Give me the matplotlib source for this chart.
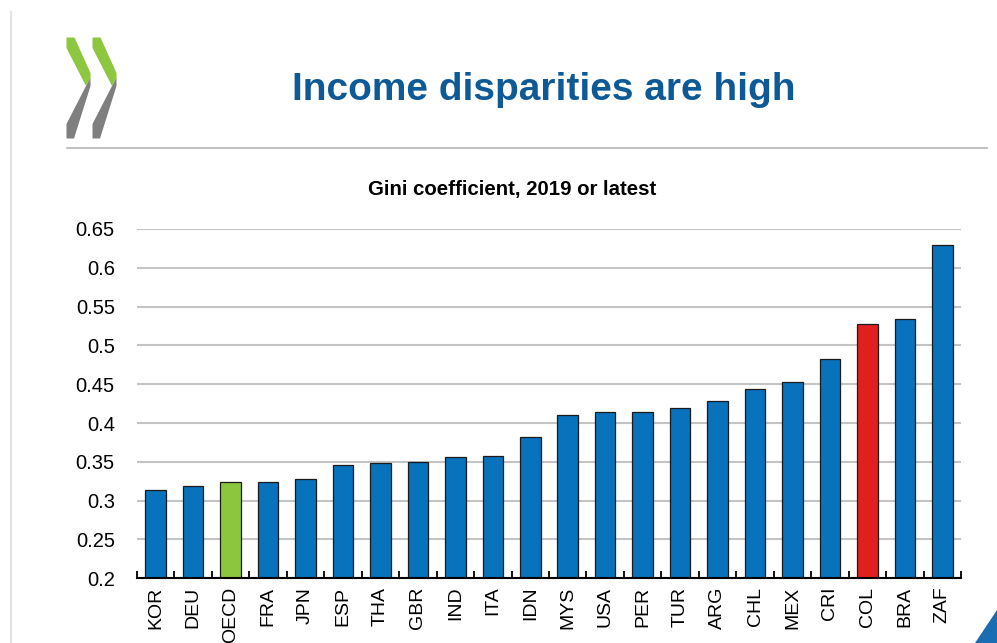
import matplotlib
matplotlib.use("Agg")
import matplotlib.pyplot as plt
from matplotlib.patches import Polygon
import numpy as np

plt.rcParams['font.family'] = ['Liberation Sans', 'DejaVu Sans']

countries = ["KOR", "DEU", "OECD", "FRA", "JPN", "ESP", "THA", "GBR", "IND", "ITA", "IDN",
             "MYS", "USA", "PER", "TUR", "ARG", "CHL", "MEX", "CRI", "COL", "BRA", "ZAF"]
gini = [0.314, 0.319, 0.324, 0.324, 0.328, 0.346, 0.348, 0.350, 0.356, 0.357, 0.382,
        0.411, 0.414, 0.414, 0.419, 0.429, 0.444, 0.453, 0.482, 0.527, 0.534, 0.629]
yticks = [0.2, 0.25, 0.3, 0.35, 0.4, 0.45, 0.5, 0.55, 0.6, 0.65]
ytick_labels = ["0.2", "0.25", "0.3", "0.35", "0.4", "0.45", "0.5", "0.55", "0.6", "0.65"]

BLUE = "#0872bc"
GREEN = "#8cc63f"
RED = "#e0201f"
colors = [GREEN if c == "OECD" else RED if c == "COL" else BLUE for c in countries]

W, H = 997, 643
fig = plt.figure(figsize=(W / 100, H / 100), dpi=100)

def px(x, y):
    return (x / W, 1 - y / H)

# slide decorations
fig.add_artist(plt.Line2D([11 / W, 11 / W], [1 - 12 / H, 0], color="#e4e4e4", lw=1.6, transform=fig.transFigure))
fig.add_artist(plt.Line2D([67 / W, 987 / W], [1 - 148 / H, 1 - 148 / H], color="#b5b5b5", lw=1.2, transform=fig.transFigure))
fig.add_artist(Polygon([px(975, 643), px(997, 643), px(997, 610)], closed=True,
                       facecolor="#1b6db3", edgecolor="none", transform=fig.transFigure))

# OECD-like chevrons
def chevron(x0):
    upper = [px(x0, 37.5), px(x0 + 8, 37.5), px(x0 + 24, 73), px(x0 + 24, 78),
             px(x0 + 19.5, 86), px(x0, 48)]
    lower = [px(x0 + 19.5, 86), px(x0 + 24, 78), px(x0 + 24, 86), px(x0 + 7.5, 138.5),
             px(x0, 138.5), px(x0, 124)]
    fig.add_artist(Polygon(upper, closed=True, facecolor="#8dc63f", edgecolor="none", transform=fig.transFigure))
    fig.add_artist(Polygon(lower, closed=True, facecolor="#7f7f7f", edgecolor="none", transform=fig.transFigure))

chevron(66.5)
chevron(92.5)

fig.text(544 / W, 1 - 90 / H, "Income disparities are high", ha="center", va="center",
         fontsize=28, fontweight="bold", color="#0e5a97")
fig.text(512 / W, 1 - 190 / H, "Gini coefficient, 2019 or latest", ha="center", va="center",
         fontsize=14.7, fontweight="bold", color="black")

left, right, bottom, top = 137 / W, 961 / W, 1 - 578.3 / H, 1 - 229 / H
ax = fig.add_axes([left, bottom, right - left, top - bottom])
x = np.arange(len(countries))
ax.bar(x, np.array(gini) - 0.2, bottom=0.2, width=0.55, color=colors, edgecolor="#1a1a1a",
       linewidth=0.9, zorder=3)
ax.set_xlim(-0.5, len(countries) - 0.5)
ax.set_ylim(0.2, 0.65)
ax.set_yticks(yticks)
ax.set_yticklabels(ytick_labels, fontsize=14.5)
ax.yaxis.grid(True, color="#c4c4c4", linewidth=1.5, zorder=0)
ax.set_axisbelow(True)
ax.tick_params(axis="y", length=0, pad=16)
ax.set_xticks(x)
ax.set_xticklabels(countries, rotation=90, fontsize=14)
ax.tick_params(axis="x", which="major", length=0, pad=6)
ax.set_xticks(np.arange(-0.5, len(countries), 1), minor=True)
ax.tick_params(axis="x", which="minor", direction="in", length=5, width=1.3, color="black")
for s in ["top", "right", "left"]:
    ax.spines[s].set_visible(False)
ax.spines["bottom"].set_linewidth(1.5)
ax.spines["bottom"].set_color("black")
ax.spines["bottom"].set_zorder(4)

fig.savefig("out.png", dpi=100)
